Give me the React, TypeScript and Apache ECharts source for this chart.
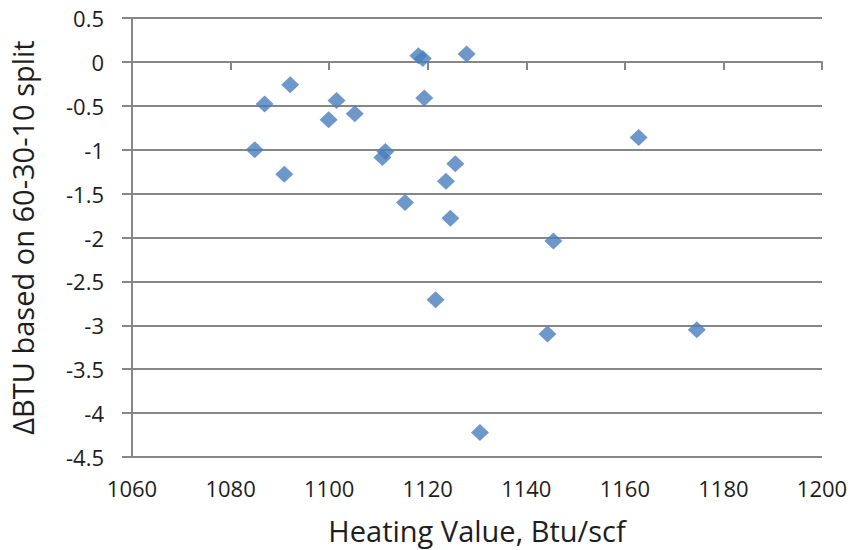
import React, { useEffect, useRef } from "react";
import * as echarts from "echarts";

const heatingValue = [
  1084.9, 1086.9, 1092.1, 1090.9, 1101.5, 1099.9, 1105.2, 1111.4, 1110.8,
  1118.1, 1119.0, 1127.9, 1119.3, 1125.6, 1123.7, 1115.4, 1124.6, 1145.5,
  1121.6, 1144.3, 1130.6, 1162.8, 1174.6,
];
const deltaBtu = [
  -1.0, -0.48, -0.26, -1.28, -0.44, -0.66, -0.59, -1.02, -1.09,
  0.07, 0.04, 0.09, -0.41, -1.16, -1.36, -1.6, -1.78, -2.04,
  -2.71, -3.1, -4.22, -0.86, -3.05,
];
const xTitle = "Heating Value, Btu/scf";
const yTitle = "ΔBTU based on 60-30-10 split";

export default function App() {
  const ref = useRef<HTMLDivElement>(null);
  useEffect(() => {
    if (!ref.current) return;
    const chart = echarts.init(ref.current, null, { renderer: "svg" });
    const font = "'Open Sans', sans-serif";
    const gray = "#878787";
    const text = "#1e1e1e";
    chart.setOption({
      animation: false,
      backgroundColor: "#ffffff",
      grid: { left: 130, right: 30, top: 18, bottom: 93, containLabel: false },
      xAxis: {
        type: "value",
        min: 1060,
        max: 1200,
        interval: 20,
        name: xTitle,
        nameLocation: "middle",
        nameGap: 59,
        nameTextStyle: { fontFamily: font, fontSize: 29, color: text },
        axisLine: { show: true, lineStyle: { color: gray, width: 2 } },
        axisTick: { show: true, length: 8, lineStyle: { color: gray, width: 2 } },
        axisLabel: {
          margin: 20,
          fontFamily: font,
          fontSize: 22,
          color: text,
          formatter: (v: number) => String(v),
        },
        splitLine: { show: false },
      },
      yAxis: {
        type: "value",
        min: -4.5,
        max: 0.5,
        interval: 0.5,
        name: yTitle,
        nameLocation: "middle",
        nameGap: 95,
        nameTextStyle: { fontFamily: font, fontSize: 29, color: text },
        axisLine: { show: true, lineStyle: { color: gray, width: 2 } },
        axisTick: { show: true, length: 10, lineStyle: { color: gray, width: 2 } },
        axisLabel: {
          margin: 28,
          fontFamily: font,
          fontSize: 22,
          color: text,
          formatter: (v: number) => String(v),
        },
        splitLine: { show: true, lineStyle: { color: gray, width: 2 } },
      },
      series: [
        {
          type: "scatter",
          symbol: "diamond",
          symbolSize: [18, 17],
          itemStyle: { color: "#4a7ebb" },
          data: heatingValue.map((x, i) => [x, deltaBtu[i]]),
        },
      ],
    });
    return () => chart.dispose();
  }, []);
  return (
    <div
      ref={ref}
      style={{ position: "fixed", left: 0, top: 0, width: 852, height: 550 }}
    />
  );
}
